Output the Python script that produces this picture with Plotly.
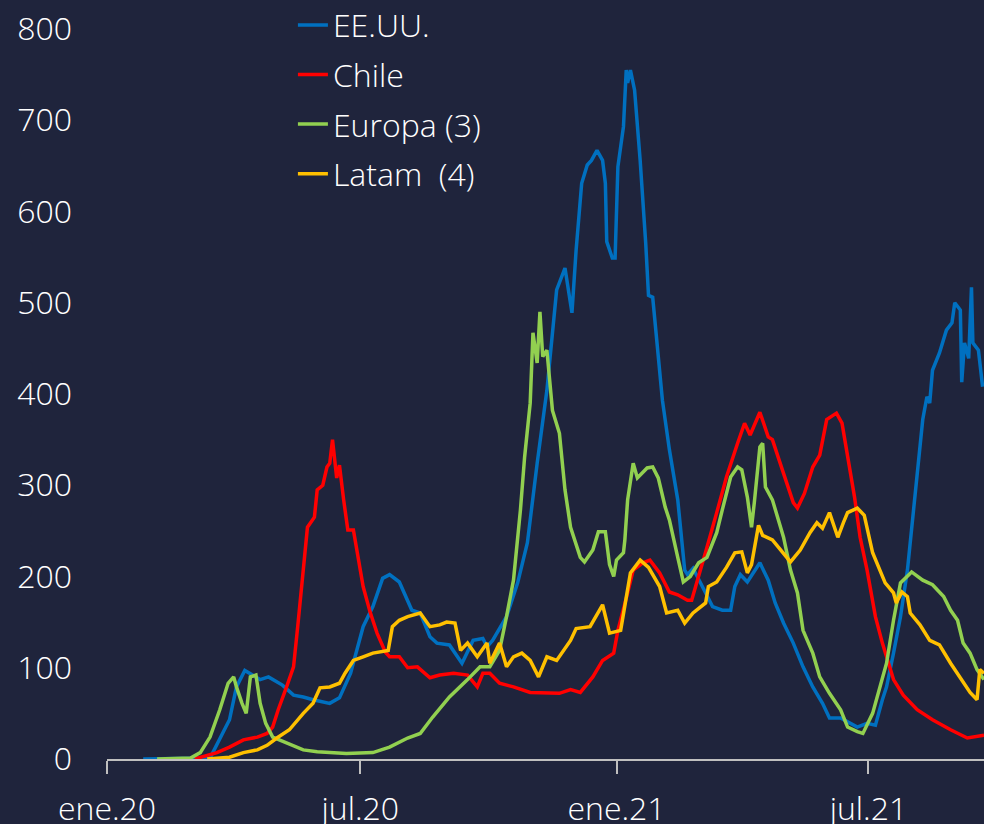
import plotly.graph_objects as go

# EE.UU.
fechas_eeuu = ['2020-01-27', '2020-03-15', '2020-03-29', '2020-04-03', '2020-04-09', '2020-04-20', '2020-04-26',
               '2020-05-06', '2020-05-14', '2020-05-21', '2020-05-28', '2020-06-09', '2020-06-16', '2020-06-24',
               '2020-07-03', '2020-07-10', '2020-07-17', '2020-07-22', '2020-07-29', '2020-08-07', '2020-08-13',
               '2020-08-20', '2020-08-25', '2020-09-03', '2020-09-12', '2020-09-20', '2020-09-27', '2020-09-30',
               '2020-10-04', '2020-10-14', '2020-10-22', '2020-10-29', '2020-11-05', '2020-11-12', '2020-11-19',
               '2020-11-25', '2020-11-30', '2020-12-03', '2020-12-07', '2020-12-11', '2020-12-14', '2020-12-18',
               '2020-12-22', '2020-12-24', '2020-12-25', '2020-12-29', '2020-12-31', '2021-01-02', '2021-01-06',
               '2021-01-08', '2021-01-09', '2021-01-11', '2021-01-14', '2021-01-18', '2021-01-22', '2021-01-24',
               '2021-01-27', '2021-01-31', '2021-02-03', '2021-02-08', '2021-02-14', '2021-02-19', '2021-02-21',
               '2021-02-25', '2021-03-04', '2021-03-11', '2021-03-18', '2021-03-24', '2021-03-27', '2021-03-31',
               '2021-04-05', '2021-04-09', '2021-04-14', '2021-04-20', '2021-04-25', '2021-05-01', '2021-05-08',
               '2021-05-15', '2021-05-22', '2021-05-29', '2021-06-03', '2021-06-11', '2021-06-18', '2021-06-23',
               '2021-06-30', '2021-07-06', '2021-07-11', '2021-07-14', '2021-07-19', '2021-07-24', '2021-07-29',
               '2021-07-31', '2021-08-02', '2021-08-06', '2021-08-09', '2021-08-12', '2021-08-14', '2021-08-16',
               '2021-08-21', '2021-08-26', '2021-08-30', '2021-09-01', '2021-09-05', '2021-09-06', '2021-09-08',
               '2021-09-11', '2021-09-13', '2021-09-14', '2021-09-18', '2021-09-21']
eeuu = [0, 1, 43, 79, 97, 87, 90,
        81, 70, 68, 65, 61, 67, 94,
        145, 167, 198, 202, 194, 163, 160,
        134, 127, 125, 105, 130, 132, 123,
        130, 156, 193, 237, 324, 404, 514,
        538, 489, 558, 631, 651, 656, 667,
        656, 631, 567, 549, 549, 649, 693,
        755, 741, 755, 733, 656, 565, 508,
        506, 445, 393, 339, 284, 207, 202,
        209, 189, 167, 163, 163, 189, 202,
        194, 204, 215, 196, 171, 149, 127,
        101, 79, 61, 45, 45, 39, 35,
        39, 37, 65, 79, 116, 156, 207,
        237, 273, 328, 372, 397, 390, 426,
        445, 470, 478, 500, 492, 413, 456,
        439, 517, 456, 448, 408]

# Chile
fechas_chile = ['2020-03-04', '2020-03-20', '2020-03-29', '2020-04-08', '2020-04-18', '2020-04-25', '2020-04-29',
                '2020-05-03', '2020-05-09', '2020-05-14', '2020-05-17', '2020-05-21', '2020-05-24', '2020-05-29',
                '2020-05-31', '2020-06-04', '2020-06-07', '2020-06-09', '2020-06-11', '2020-06-14', '2020-06-16',
                '2020-06-19', '2020-06-22', '2020-06-26', '2020-07-01', '2020-07-03', '2020-07-08', '2020-07-13',
                '2020-07-19', '2020-07-22', '2020-07-29', '2020-08-04', '2020-08-11', '2020-08-20', '2020-08-27',
                '2020-09-06', '2020-09-16', '2020-09-23', '2020-09-27', '2020-10-02', '2020-10-09', '2020-10-19',
                '2020-10-31', '2020-11-12', '2020-11-21', '2020-11-29', '2020-12-06', '2020-12-15', '2020-12-22',
                '2020-12-30', '2021-01-02', '2021-01-09', '2021-01-13', '2021-01-20', '2021-01-25', '2021-02-01',
                '2021-02-08', '2021-02-14', '2021-02-21', '2021-02-24', '2021-03-02', '2021-03-07', '2021-03-14',
                '2021-03-21', '2021-03-29', '2021-04-03', '2021-04-07', '2021-04-14', '2021-04-20', '2021-04-23',
                '2021-05-01', '2021-05-08', '2021-05-11', '2021-05-16', '2021-05-22', '2021-05-27', '2021-06-01',
                '2021-06-08', '2021-06-12', '2021-06-16', '2021-06-21', '2021-06-25', '2021-06-30', '2021-07-06',
                '2021-07-11', '2021-07-19', '2021-07-26', '2021-08-05', '2021-08-16', '2021-08-29', '2021-09-10',
                '2021-09-22']
chile = [0, 7, 13, 21, 24, 28, 35,
         54, 79, 101, 145, 207, 254, 265,
         295, 300, 320, 324, 350, 308, 322,
         284, 251, 251, 210, 189, 161, 138,
         117, 112, 112, 100, 101, 89, 92,
         94, 92, 79, 94, 94, 83, 79,
         73, 72, 72, 76, 73, 90, 108,
         116, 141, 182, 207, 215, 218, 204,
         183, 180, 174, 174, 204, 232, 270,
         309, 346, 368, 355, 380, 353, 350,
         313, 281, 275, 291, 320, 333, 372,
         379, 368, 331, 287, 243, 207, 156,
         127, 87, 70, 54, 43, 32, 23,
         26]

# Europa (3)
fechas_europa = ['2020-02-06', '2020-03-01', '2020-03-08', '2020-03-15', '2020-03-22', '2020-03-28', '2020-04-01',
                 '2020-04-03', '2020-04-07', '2020-04-10', '2020-04-13', '2020-04-17', '2020-04-20', '2020-04-24',
                 '2020-04-29', '2020-05-09', '2020-05-21', '2020-05-31', '2020-06-09', '2020-06-21', '2020-07-10',
                 '2020-07-22', '2020-08-04', '2020-08-13', '2020-08-22', '2020-09-03', '2020-09-16', '2020-09-25',
                 '2020-10-02', '2020-10-09', '2020-10-14', '2020-10-19', '2020-10-24', '2020-10-27', '2020-10-31',
                 '2020-11-02', '2020-11-05', '2020-11-07', '2020-11-09', '2020-11-12', '2020-11-16', '2020-11-21',
                 '2020-11-25', '2020-11-29', '2020-12-06', '2020-12-09', '2020-12-15', '2020-12-19', '2020-12-24',
                 '2020-12-27', '2020-12-30', '2021-01-01', '2021-01-06', '2021-01-07', '2021-01-09', '2021-01-13',
                 '2021-01-16', '2021-01-23', '2021-01-27', '2021-01-31', '2021-02-05', '2021-02-08', '2021-02-14',
                 '2021-02-18', '2021-02-23', '2021-03-01', '2021-03-07', '2021-03-14', '2021-03-18', '2021-03-24',
                 '2021-03-29', '2021-04-01', '2021-04-05', '2021-04-08', '2021-04-10', '2021-04-14', '2021-04-16',
                 '2021-04-18', '2021-04-23', '2021-05-01', '2021-05-06', '2021-05-11', '2021-05-15', '2021-05-22',
                 '2021-05-27', '2021-06-03', '2021-06-11', '2021-06-16', '2021-06-23', '2021-06-27', '2021-07-04',
                 '2021-07-09', '2021-07-14', '2021-07-19', '2021-07-24', '2021-08-01', '2021-08-09', '2021-08-16',
                 '2021-08-24', '2021-08-29', '2021-09-03', '2021-09-07', '2021-09-12', '2021-09-17', '2021-09-22']
europa = [0, 1, 7, 24, 54, 83, 90,
          79, 61, 50, 90, 92, 61, 39,
          24, 18, 10, 8, 7, 6, 7,
          13, 23, 28, 46, 68, 87, 101,
          101, 119, 156, 196, 273, 331, 390,
          467, 434, 490, 441, 448, 382, 357,
          295, 254, 221, 216, 229, 249, 249,
          213, 200, 218, 226, 240, 284, 324,
          308, 319, 320, 308, 276, 262, 221,
          194, 200, 215, 221, 248, 273, 309,
          320, 317, 287, 254, 281, 342, 346,
          298, 284, 243, 207, 182, 141, 116,
          90, 72, 54, 35, 30, 28, 50,
          76, 105, 152, 193, 205, 196, 191,
          178, 163, 152, 127, 116, 98, 87]

# Latam (4)
fechas_latam = ['2020-03-13', '2020-03-29', '2020-04-08', '2020-04-18', '2020-04-25', '2020-05-02', '2020-05-11',
                '2020-05-21', '2020-05-28', '2020-06-02', '2020-06-09', '2020-06-16', '2020-06-20', '2020-06-26',
                '2020-07-03', '2020-07-10', '2020-07-21', '2020-07-24', '2020-07-29', '2020-08-04', '2020-08-13',
                '2020-08-20', '2020-08-27', '2020-09-01', '2020-09-07', '2020-09-11', '2020-09-16', '2020-09-23',
                '2020-09-30', '2020-10-02', '2020-10-09', '2020-10-14', '2020-10-19', '2020-10-25', '2020-10-31',
                '2020-11-06', '2020-11-12', '2020-11-19', '2020-11-29', '2020-12-03', '2020-12-13', '2020-12-22',
                '2020-12-27', '2021-01-04', '2021-01-11', '2021-01-18', '2021-01-24', '2021-02-01', '2021-02-06',
                '2021-02-14', '2021-02-19', '2021-02-25', '2021-03-06', '2021-03-08', '2021-03-14', '2021-03-21',
                '2021-03-27', '2021-04-01', '2021-04-05', '2021-04-08', '2021-04-13', '2021-04-16', '2021-04-23',
                '2021-04-28', '2021-05-06', '2021-05-13', '2021-05-20', '2021-05-25', '2021-05-29', '2021-06-03',
                '2021-06-09', '2021-06-13', '2021-06-16', '2021-06-23', '2021-06-28', '2021-07-04', '2021-07-07',
                '2021-07-13', '2021-07-19', '2021-07-21', '2021-07-25', '2021-07-29', '2021-07-31', '2021-08-07',
                '2021-08-14', '2021-08-21', '2021-08-29', '2021-09-05', '2021-09-12', '2021-09-17', '2021-09-19',
                '2021-09-22']
latam = [0, 2, 7, 10, 15, 23, 32,
         50, 61, 78, 79, 83, 94, 108,
         112, 116, 119, 145, 152, 156, 160,
         145, 147, 150, 149, 119, 127, 112,
         127, 105, 127, 101, 112, 116, 108,
         90, 112, 108, 130, 143, 145, 169,
         138, 141, 204, 218, 210, 189, 160,
         163, 149, 160, 171, 189, 194, 210,
         226, 227, 204, 213, 256, 245, 240,
         231, 216, 229, 248, 259, 253, 270,
         243, 259, 270, 275, 267, 226, 215,
         193, 182, 171, 183, 178, 160, 147,
         130, 125, 105, 89, 73, 65, 98,
         94]

tick_fechas = ['2020-01-01', '2020-07-01', '2021-01-01', '2021-07-01']
tick_textos = ['ene.20', 'jul.20', 'ene.21', 'jul.21']

FONT = dict(family='Open Sans', size=32, color='#ffffff', weight=300)
BG = '#1f243c'

series = [
    ('EE.UU.', fechas_eeuu, eeuu, '#0070c0'),
    ('Chile', fechas_chile, chile, '#ff0000'),
    ('Europa (3)', fechas_europa, europa, '#92d050'),
    ('Latam  (4)', fechas_latam, latam, '#ffc000'),
]

fig = go.Figure()
for name, x, y, color in series:
    fig.add_trace(go.Scatter(
        x=x, y=y, name=name, mode='lines', legendgroup=name,
        line=dict(color=color, width=3.5)
    ))

fig.update_layout(
    width=984, height=824,
    margin=dict(l=107, r=0, t=29, b=65, autoexpand=False),
    paper_bgcolor=BG, plot_bgcolor=BG,
    font=FONT,
    showlegend=True,
    legend=dict(
        x=0.212, y=1.043, xanchor='left', yanchor='top',
        bgcolor='rgba(0,0,0,0)', font=FONT,
        traceorder='grouped', tracegroupgap=5,
    ),
    xaxis=dict(
        type='date', range=['2020-01-01', '2021-09-22'],
        tickvals=tick_fechas, ticktext=tick_textos,
        showgrid=False, zeroline=False, automargin=False,
        showline=True, linecolor='#bfbfbf', linewidth=2,
        ticks='outside', ticklen=13, tickwidth=2, tickcolor='#bfbfbf',
        layer='below traces', tickfont=FONT, ticklabelstandoff=8,
    ),
    yaxis=dict(
        range=[0, 800], dtick=100, automargin=False,
        showgrid=False, zeroline=False, showline=False,
        ticks='', tickfont=FONT, ticklabelstandoff=34,
    ),
)

# quitar el margen por defecto de la página para que el gráfico ocupe toda la ventana
fig.write_html(
    "out.html",
    config={'displayModeBar': False},
    post_script="document.body.style.margin='0';document.body.style.background='%s';" % BG,
)
